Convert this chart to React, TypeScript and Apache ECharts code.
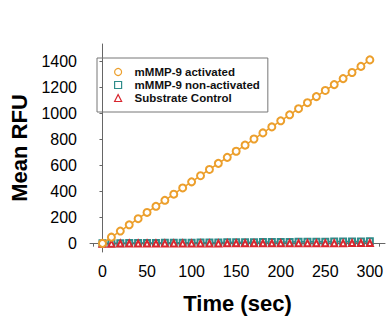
import React, { useEffect, useRef } from "react";
import * as echarts from "echarts";

const timePoints = [0,10,20,30,40,50,60,70,80,90,100,110,120,130,140,150,160,170,180,190,200,210,220,230,240,250,260,270,280,290,300];
const activated = [2,50,97,145,192,240,287,333,380,428,475,522,570,617,663,710,757,804,851,897,944,990,1037,1083,1130,1177,1222,1268,1315,1362,1412];
const nonActivated = [3,4,4,5,5,6,6,7,7,8,8,9,9,9,10,10,11,11,12,12,13,13,14,14,15,15,16,16,17,17,18];
const substrateControl = [0,0,1,1,1,1,1,2,2,2,2,2,2,2,3,3,3,3,3,3,3,4,4,4,4,4,4,4,5,5,5];
const xTickValues = [-10,0,10,20,30,40,50,60,70,80,90,100,110,120,130,140,150,160,170,180,190,200,210,220,230,240,250,260,270,280,290,300,310];
const xLabelValues = [0,50,100,150,200,250,300];
const yTickValues = [0,200,400,600,800,1000,1200,1400];
const seriesNames = ["mMMP-9 activated", "mMMP-9 non-activated", "Substrate Control"];

const ORANGE = "#EC9F2C";
const TEAL = "#2E8C8A";
const RED = "#D8262E";

export default function App() {
  const ref = useRef<HTMLDivElement>(null);
  useEffect(() => {
    if (!ref.current) return;
    const chart = echarts.init(ref.current, null, { renderer: "svg" });
    const pair = (arr: number[]) => timePoints.map((t, i) => [t, arr[i]]);
    chart.setOption({
      animation: false,
      backgroundColor: "#fff",
      textStyle: { fontFamily: "Arial, 'Liberation Sans', sans-serif" },
      grid: { left: 90, top: 44, right: 6, bottom: 68, containLabel: false },
      legend: {
        left: 97,
        top: 58,
        orient: "vertical",
        padding: [8, 8, 8, 17],
        itemWidth: 7,
        itemHeight: 7,
        itemGap: 1,
        borderColor: "#777",
        borderWidth: 1,
        textStyle: { fontSize: 11.5, lineHeight: 11.5, fontWeight: "bold", color: "#111", padding: [0, 0, 0, 8] },
        data: [
          { name: seriesNames[0], icon: "circle", itemStyle: { color: "rgba(0,0,0,0)", borderColor: ORANGE, borderWidth: 1.2 } },
          { name: seriesNames[1], icon: "rect", itemStyle: { color: "rgba(0,0,0,0)", borderColor: TEAL, borderWidth: 1.2 } },
          { name: seriesNames[2], icon: "triangle", itemStyle: { color: "rgba(0,0,0,0)", borderColor: RED, borderWidth: 1.2 } },
        ],
      },
      xAxis: {
        type: "value",
        min: -14,
        max: 317,
        name: "Time (sec)",
        nameLocation: "middle",
        nameGap: 40,
        nameTextStyle: { fontSize: 22, fontWeight: "bold", color: "#000" },
        axisLine: { show: true, lineStyle: { color: "#666", width: 1 } },
        axisTick: { show: true, inside: false, length: 3, lineStyle: { color: "#666" }, customValues: xTickValues },
        axisLabel: { fontSize: 16, color: "#000", margin: 11, customValues: xLabelValues, formatter: (v: number) => String(v) },
        splitLine: { show: false },
      },
      yAxis: {
        type: "value",
        min: -64,
        max: 1534,
        name: "Mean RFU",
        nameLocation: "middle",
        nameGap: 56,
        nameTextStyle: { fontSize: 22, fontWeight: "bold", color: "#000" },
        axisLine: { show: true, lineStyle: { color: "#666", width: 1 } },
        axisTick: { show: true, inside: false, length: 3, lineStyle: { color: "#666" }, customValues: yTickValues },
        axisLabel: { fontSize: 16, color: "#000", margin: 13, customValues: yTickValues, formatter: (v: number) => String(v) },
        splitLine: { show: false },
      },
      series: [
        {
          name: seriesNames[0],
          type: "line",
          data: pair(activated),
          symbol: "emptyCircle",
          symbolSize: 7,
          itemStyle: { color: ORANGE, borderWidth: 1.2 },
          lineStyle: { color: ORANGE, width: 1.5 },
          z: 3,
        },
        {
          name: seriesNames[1],
          type: "line",
          data: pair(nonActivated),
          symbol: "emptyRect",
          symbolSize: 6,
          itemStyle: { color: TEAL, borderWidth: 1.2 },
          lineStyle: { color: TEAL, width: 1.5 },
          z: 2,
        },
        {
          name: seriesNames[2],
          type: "line",
          data: pair(substrateControl),
          symbol: "emptyTriangle",
          symbolSize: 6,
          itemStyle: { color: RED, borderWidth: 1.2 },
          lineStyle: { color: RED, width: 1.5 },
          z: 2,
        },
      ],
    });
    return () => chart.dispose();
  }, []);
  return <div ref={ref} style={{ position: "absolute", left: 0, top: 0, width: 391, height: 320 }} />;
}
